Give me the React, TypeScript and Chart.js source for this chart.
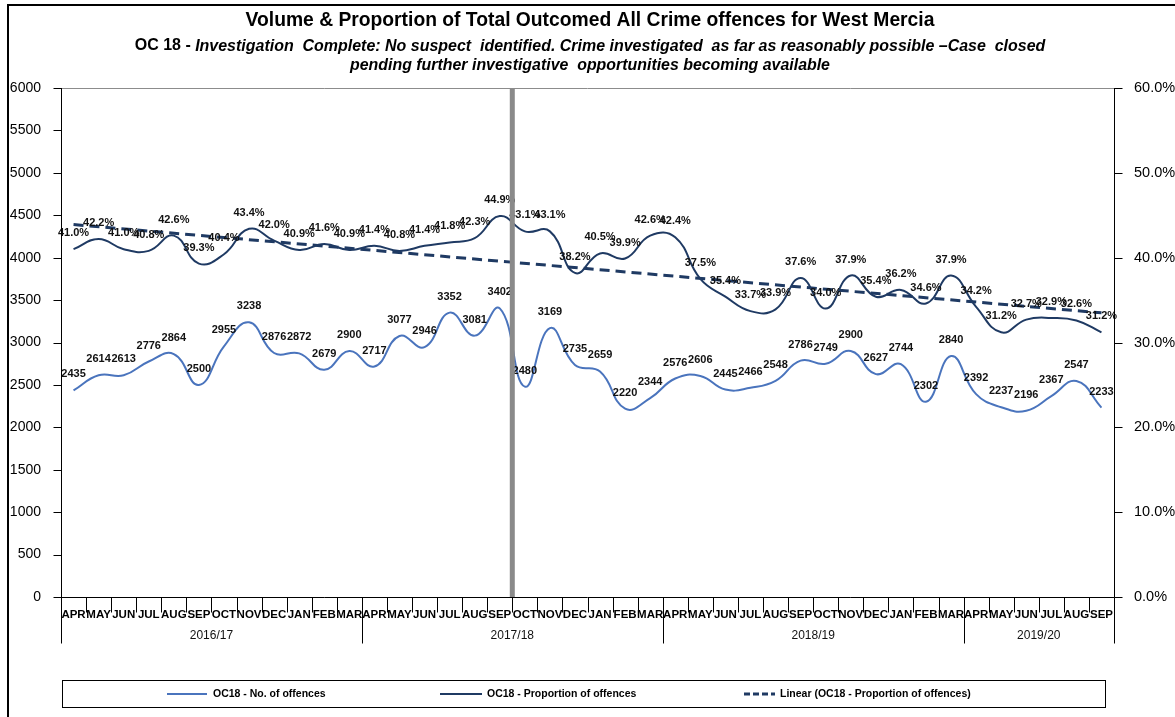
import React, { useEffect, useRef } from 'react';
import { Chart, registerables } from 'chart.js';

Chart.register(...registerables);

const months = ['APR', 'MAY', 'JUN', 'JUL', 'AUG', 'SEP', 'OCT', 'NOV', 'DEC', 'JAN', 'FEB', 'MAR'];
const years = ['2016/17', '2017/18', '2018/19', '2019/20'];
const yearLengths = [12, 12, 12, 6];
const monthLabels = [...months, ...months, ...months, ...months.slice(0, 6)];

const volume = [
  2435, 2614, 2613, 2776, 2864, 2500, 2955, 3238, 2876, 2872, 2679, 2900,
  2717, 3077, 2946, 3352, 3081, 3402, 2480, 3169, 2735, 2659, 2220, 2344,
  2576, 2606, 2445, 2466, 2548, 2786, 2749, 2900, 2627, 2744, 2302, 2840,
  2392, 2237, 2196, 2367, 2547, 2233,
];

const proportion = [
  41.0, 42.2, 41.0, 40.8, 42.6, 39.3, 40.4, 43.4, 42.0, 40.9, 41.6, 40.9,
  41.4, 40.8, 41.4, 41.8, 42.3, 44.9, 43.1, 43.1, 38.2, 40.5, 39.9, 42.6,
  42.4, 37.5, 35.4, 33.7, 33.9, 37.6, 34.0, 37.9, 35.4, 36.2, 34.6, 37.9,
  34.2, 31.2, 32.7, 32.9, 32.6, 31.2,
];

// linear trendline end values (first and last month)
const trendEnds = [43.9, 33.5];

const seriesNames = [
  'OC18 - No. of offences',
  'OC18 - Proportion of offences',
  'Linear (OC18 - Proportion of offences)',
];

const titleLine1 = 'Volume & Proportion of Total Outcomed All Crime offences for West Mercia';
const titlePrefix = 'OC 18 - ';
const titleLine2 = 'Investigation  Complete: No suspect  identified. Crime investigated  as far as reasonably possible \u2013Case  closed';
const titleLine3 = 'pending further investigative  opportunities becoming available';

const splitBoundary = 18; // vertical marker between SEP and OCT 2017

const VOL_COLOR = '#4a74bd';
const PROP_COLOR = '#1f3a63';

const trendData = proportion.map((_, i) =>
  i === 0 ? trendEnds[0] : i === proportion.length - 1 ? trendEnds[1] : null
);

function fitFont(ctx: CanvasRenderingContext2D, text: string, style: string, target: number) {
  ctx.font = `${style} 20px Arial`;
  const w = ctx.measureText(text).width;
  const size = (20 * target) / w;
  return `${style} ${size.toFixed(2)}px Arial`;
}

const decoPlugin = {
  id: 'deco',
  beforeDraw(chart: any) {
    const ctx: CanvasRenderingContext2D = chart.ctx;
    ctx.save();
    ctx.fillStyle = '#ffffff';
    ctx.fillRect(0, 0, chart.width, chart.height);
    ctx.strokeStyle = '#000';
    ctx.lineWidth = 2;
    ctx.beginPath();
    ctx.moveTo(8, chart.height + 2);
    ctx.lineTo(8, 5);
    ctx.lineTo(chart.width + 2, 5);
    ctx.stroke();

    const cx = 590;
    ctx.fillStyle = '#000';
    ctx.textBaseline = 'middle';
    ctx.textAlign = 'left';
    ctx.font = fitFont(ctx, titleLine1, 'bold', 689);
    let w = ctx.measureText(titleLine1).width;
    ctx.fillText(titleLine1, cx - w / 2, 21);

    const prefixFont = 'bold 16px Arial';
    ctx.font = prefixFont;
    const pw = ctx.measureText(titlePrefix).width;
    const italicFont = fitFont(ctx, titleLine2, 'italic bold', 911 - pw);
    ctx.font = italicFont;
    const iw = ctx.measureText(titleLine2).width;
    const start = cx - (pw + iw) / 2;
    ctx.font = prefixFont;
    ctx.fillText(titlePrefix, start, 46);
    ctx.font = italicFont;
    ctx.fillText(titleLine2, start + pw, 47);

    ctx.font = fitFont(ctx, titleLine3, 'italic bold', 480);
    w = ctx.measureText(titleLine3).width;
    ctx.fillText(titleLine3, cx - w / 2, 66);
    ctx.restore();
  },
  afterDatasetsDraw(chart: any) {
    const ctx: CanvasRenderingContext2D = chart.ctx;
    const area = chart.chartArea;
    const x = chart.scales.x;
    ctx.save();
    ctx.font = 'bold 11px Arial';
    ctx.fillStyle = '#111';
    ctx.textAlign = 'center';
    ctx.textBaseline = 'middle';
    const m0 = chart.getDatasetMeta(0);
    m0.data.forEach((pt: any, i: number) => {
      ctx.fillText(String(volume[i]), pt.x, pt.y - 16);
    });
    const m1 = chart.getDatasetMeta(1);
    m1.data.forEach((pt: any, i: number) => {
      ctx.fillText(proportion[i].toFixed(1) + '%', pt.x, pt.y - 16);
    });

    const w = x.getPixelForValue(1) - x.getPixelForValue(0);
    const bx = x.getPixelForValue(0) - w / 2 + splitBoundary * w;
    ctx.fillStyle = '#8a8a8a';
    ctx.fillRect(bx - 2.5, area.top, 5, area.bottom - area.top);
    ctx.restore();
  },
  afterDraw(chart: any) {
    const ctx: CanvasRenderingContext2D = chart.ctx;
    const area = chart.chartArea;
    const x = chart.scales.x;
    const y = chart.scales.y;
    const y1 = chart.scales.y1;
    ctx.save();
    ctx.strokeStyle = '#8c8c8c';
    ctx.lineWidth = 1;
    ctx.beginPath();
    ctx.moveTo(area.left, Math.round(area.top) + 0.5);
    ctx.lineTo(area.right, Math.round(area.top) + 0.5);
    ctx.stroke();

    ctx.strokeStyle = '#000';
    ctx.lineWidth = 1;
    ctx.beginPath();
    const lx = Math.round(area.left) + 0.5;
    const rx = Math.round(area.right) + 0.5;
    const by = Math.round(area.bottom) + 0.5;
    ctx.moveTo(lx, area.top);
    ctx.lineTo(lx, by);
    ctx.moveTo(rx, area.top);
    ctx.lineTo(rx, by);
    ctx.moveTo(area.left, by);
    ctx.lineTo(area.right, by);
    y.ticks.forEach((t: any) => {
      const py = Math.round(y.getPixelForValue(t.value)) + 0.5;
      ctx.moveTo(lx - 8, py);
      ctx.lineTo(lx, py);
    });
    y1.ticks.forEach((t: any) => {
      const py = Math.round(y1.getPixelForValue(t.value)) + 0.5;
      ctx.moveTo(rx, py);
      ctx.lineTo(rx + 8, py);
    });
    const w = x.getPixelForValue(1) - x.getPixelForValue(0);
    const b0 = x.getPixelForValue(0) - w / 2;
    for (let i = 0; i <= monthLabels.length; i++) {
      const px = Math.round(b0 + i * w) + 0.5;
      ctx.moveTo(px, by);
      ctx.lineTo(px, by + 15);
    }
    let acc = 0;
    const bounds = [0];
    yearLengths.forEach((n) => {
      acc += n;
      bounds.push(acc);
    });
    bounds.forEach((bi) => {
      const px = Math.round(b0 + bi * w) + 0.5;
      ctx.moveTo(px, by);
      ctx.lineTo(px, by + 46);
    });
    ctx.stroke();

    ctx.fillStyle = '#111';
    ctx.font = '12px Arial';
    ctx.textAlign = 'center';
    ctx.textBaseline = 'middle';
    for (let k = 0; k < years.length; k++) {
      const c = b0 + ((bounds[k] + bounds[k + 1]) / 2) * w;
      ctx.fillText(years[k], c, by + 38);
    }

    ctx.strokeStyle = '#000';
    ctx.lineWidth = 1;
    ctx.strokeRect(62.5, 680.5, 1043, 27);
    const ly = 694;
    const items = [
      { x1: 167, x2: 207, tx: 213, color: VOL_COLOR, dash: [] as number[], lw: 2 },
      { x1: 440, x2: 482, tx: 487, color: PROP_COLOR, dash: [] as number[], lw: 2 },
      { x1: 744, x2: 775, tx: 780, color: PROP_COLOR, dash: [6, 3], lw: 3 },
    ];
    ctx.font = 'bold 10.5px Arial';
    ctx.textAlign = 'left';
    ctx.fillStyle = '#000';
    items.forEach((it, i) => {
      ctx.save();
      ctx.strokeStyle = it.color;
      ctx.lineWidth = it.lw;
      ctx.setLineDash(it.dash);
      ctx.beginPath();
      ctx.moveTo(it.x1, ly);
      ctx.lineTo(it.x2, ly);
      ctx.stroke();
      ctx.restore();
      ctx.fillText(seriesNames[i], it.tx, ly);
    });
    ctx.restore();
  },
};

export default function App() {
  const ref = useRef<HTMLCanvasElement | null>(null);
  useEffect(() => {
    if (!ref.current) return;
    const chart = new Chart(ref.current, {
      type: 'line',
      data: {
        labels: monthLabels,
        datasets: [
          {
            label: seriesNames[0],
            data: volume,
            yAxisID: 'y',
            borderColor: VOL_COLOR,
            borderWidth: 2,
            pointRadius: 0,
            tension: 0.45,
            fill: false,
          },
          {
            label: seriesNames[1],
            data: proportion,
            yAxisID: 'y1',
            borderColor: PROP_COLOR,
            borderWidth: 2,
            pointRadius: 0,
            tension: 0.45,
            fill: false,
          },
          {
            label: seriesNames[2],
            data: trendData,
            yAxisID: 'y1',
            borderColor: PROP_COLOR,
            borderWidth: 3,
            borderDash: [10, 6],
            pointRadius: 0,
            spanGaps: true,
            tension: 0,
            fill: false,
          },
        ],
      },
      options: {
        responsive: false,
        animation: false,
        devicePixelRatio: 1,
        layout: { padding: { top: 88, left: 0, right: 0, bottom: 0 } },
        plugins: {
          legend: { display: false },
          tooltip: { enabled: false },
          title: { display: false },
        },
        scales: {
          x: {
            type: 'category',
            offset: true,
            grid: { display: false },
            border: { display: false },
            ticks: {
              autoSkip: false,
              maxRotation: 0,
              minRotation: 0,
              padding: 3,
              color: '#000',
              font: { family: 'Arial', size: 11.5, weight: 'bold' },
            },
            afterFit: (s: any) => {
              s.height = 120;
            },
          },
          y: {
            position: 'left',
            min: 0,
            max: 6000,
            grid: { display: false },
            border: { display: false },
            ticks: {
              stepSize: 500,
              padding: 12,
              color: '#000',
              font: { family: 'Arial', size: 14 },
              callback: (v: any) => String(v),
            },
            afterFit: (s: any) => {
              s.width = 61;
            },
          },
          y1: {
            position: 'right',
            min: 0,
            max: 60,
            grid: { display: false },
            border: { display: false },
            ticks: {
              stepSize: 10,
              padding: 12,
              color: '#000',
              font: { family: 'Arial', size: 14.5 },
              callback: (v: any) => Number(v).toFixed(1) + '%',
            },
            afterFit: (s: any) => {
              s.width = 61;
            },
          },
        },
      },
      plugins: [decoPlugin],
    });
    return () => chart.destroy();
  }, []);

  return (
    <div style={{ position: 'fixed', left: 0, top: 0, width: 1175, height: 717, background: '#fff' }}>
      <canvas ref={ref} width={1175} height={717} style={{ display: 'block' }} />
    </div>
  );
}
